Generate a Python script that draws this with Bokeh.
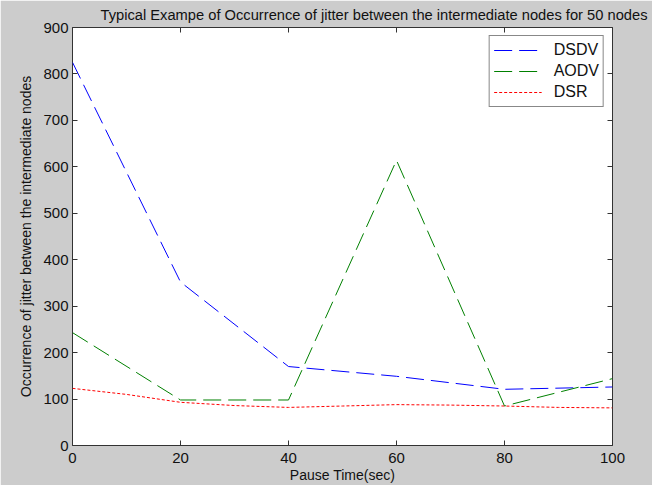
from bokeh.plotting import figure
from bokeh.models import Range1d, LinearAxis, FixedTicker, Legend, LegendItem
from bokeh.embed import file_html
from bokeh.resources import INLINE

pause = [0, 20, 40, 60, 80, 100]
dsdv = [825, 352, 170, 149, 121, 126]
aodv = [243, 98, 98, 614, 85, 144]
dsr_x = [0, 10, 20, 30, 40, 50, 60, 70, 80, 90, 100]
dsr = [123, 110, 93, 86, 82, 85, 88, 87, 85, 82, 81]

x_ticks = [0, 20, 40, 60, 80, 100]
y_ticks = [0, 100, 200, 300, 400, 500, 600, 700, 800, 900]

FONT = "Liberation Sans"
BG = "#cccccc"

p = figure(width=652, height=485, output_backend="svg", toolbar_location=None,
           x_range=Range1d(0, 100), y_range=Range1d(0, 900),
           title="Typical Exampe of Occurrence of jitter between the intermediate nodes for 50 nodes",
           min_border_left=72, min_border_right=40, min_border_top=27, min_border_bottom=40)

p.background_fill_color = "white"
p.border_fill_color = BG
p.outline_line_color = "#333333"
p.outline_line_width = 1
p.grid.visible = False

p.title.text_font = FONT
p.title.text_font_size = "14.7px"
p.title.text_font_style = "normal"
p.title.align = "left"
p.title.text_color = "#111111"
p.title.offset = 28
p.title.standoff = 9

for ax, ticks in ((p.xaxis[0], x_ticks), (p.yaxis[0], y_ticks)):
    ax.ticker = FixedTicker(ticks=ticks)
    ax.major_tick_in = 5
    ax.major_tick_out = 0
    ax.minor_tick_in = 0
    ax.minor_tick_out = 0
    ax.axis_line_color = None
    ax.major_tick_line_color = "#333333"
    ax.major_label_text_font = FONT
    ax.major_label_text_font_size = "15px"
    ax.major_label_text_color = "#111111"
    ax.axis_label_text_font = FONT
    ax.axis_label_text_font_size = "14px"
    ax.axis_label_text_font_style = "normal"
    ax.axis_label_text_color = "#111111"

p.xaxis[0].axis_label = "Pause Time(sec)"
p.yaxis[0].axis_label = "Occurrence of jitter between the intermediate nodes"
p.xaxis[0].major_label_standoff = 7
p.xaxis[0].axis_label_standoff = 1
p.yaxis[0].major_label_standoff = 4
p.yaxis[0].axis_label_standoff = 6

top = LinearAxis(ticker=FixedTicker(ticks=x_ticks))
right = LinearAxis(ticker=FixedTicker(ticks=y_ticks))
for ax, ticks in ((top, x_ticks), (right, y_ticks)):
    ax.major_tick_in = 5
    ax.major_tick_out = 0
    ax.minor_tick_in = 0
    ax.minor_tick_out = 0
    ax.axis_line_color = None
    ax.major_tick_line_color = "#333333"
    ax.major_label_overrides = {t: "" for t in ticks}
    ax.major_label_standoff = 0
p.add_layout(top, "above")
p.add_layout(right, "right")

r1 = p.line(pause, dsdv, line_color="#0000ff", line_dash="18 7", line_width=1)
r2 = p.line(pause, aodv, line_color="#008000", line_dash="18 7", line_width=1)
r3 = p.line(dsr_x, dsr, line_color="#ff0000", line_dash="3 2", line_width=1)

legend = Legend(items=[LegendItem(label="DSDV", renderers=[r1]),
                       LegendItem(label="AODV", renderers=[r2]),
                       LegendItem(label="DSR", renderers=[r3])],
                location="top_right")
legend.margin = 8
legend.padding = 4
legend.spacing = 1
legend.label_height = 20
legend.glyph_height = 20
legend.glyph_width = 48
legend.label_standoff = 12
legend.label_text_font = FONT
legend.label_text_font_size = "16px"
legend.label_text_color = "#111111"
legend.border_line_color = "#111111"
legend.background_fill_color = "white"
legend.background_fill_alpha = 1
p.add_layout(legend)

open("out.html", "w").write(file_html(p, INLINE))
